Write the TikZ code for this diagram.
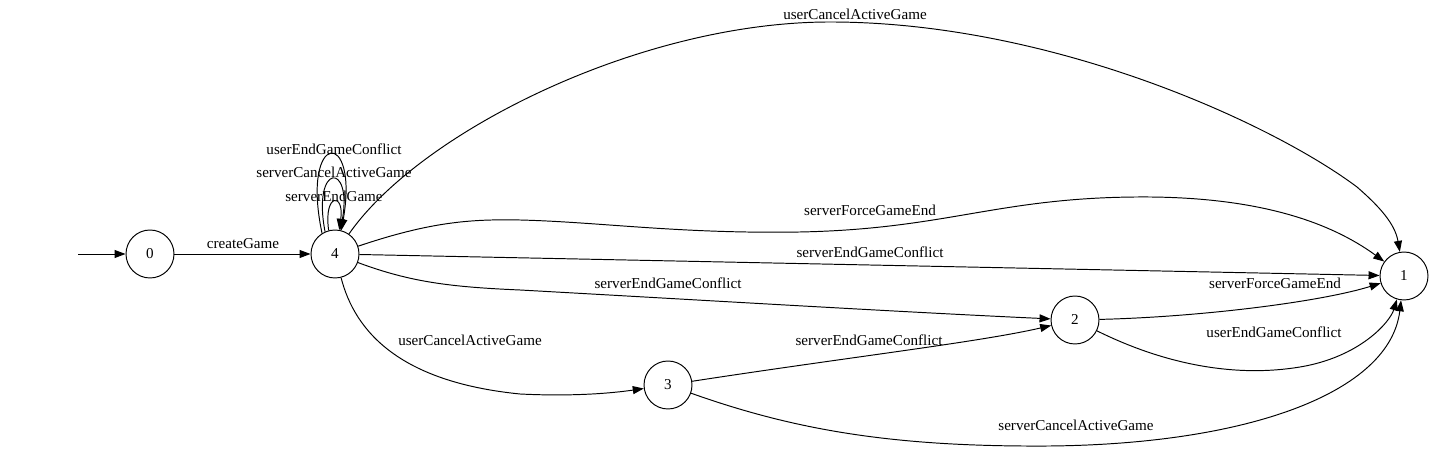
\documentclass[tikz,border=0pt]{standalone}
\usepackage{fontspec}
\setmainfont{Liberation Serif}
\usepackage{tikz}
\usetikzlibrary{arrows.meta,positioning}
\tikzset{
state_node/.style={circle, draw, line width=0.55pt, minimum size=0.96cm, inner sep=0pt, font=\fontsize{8.6}{10}\selectfont},
edge_label/.style={inner sep=0pt, font=\fontsize{8.6}{10}\selectfont},
trans/.style={draw, line width=0.55pt, -{Triangle[length=0.22cm, width=0.16cm]}}
}

\begin{document}
\begin{tikzpicture}[x=0.02cm, y=0.02cm]
    \useasboundingbox (0,0) rectangle (1433,452);
    % states
    \node[state_node] (state_0) at (150,198) {0};
    \node[state_node] (state_4) at (335,198) {4};
    \node[state_node] (state_3) at (668,67) {3};
    \node[state_node] (state_2) at (1075,132) {2};
    \node[state_node] (state_1) at (1404,176) {1};
    \coordinate[left=1.44cm of state_0.center] (init);

    % transitions
    \draw[trans] (init) -- (state_0);
    \draw[trans] (state_0) -- (state_4);
    \draw[trans] (state_4.122) .. controls +(102:105) and +(80:105) .. (state_4.75);
    \draw[trans] (state_4.114) .. controls +(101:70) and +(80:70) .. (state_4.77);
    \draw[trans] (state_4.105) .. controls +(98:38) and +(82:38) .. (state_4.80);
    \draw[trans] (state_4) .. controls (420,320) and (640,430) .. (830,430)
        .. controls (1050,430) and (1270,330) .. (1357,265)
        .. controls (1380,245) and (1395,228) .. (state_1);
    \draw[trans] (state_4) .. controls (430,230) and (470,233) .. (520,232)
        .. controls (600,230) and (680,218) .. (800,220)
        .. controls (950,223) and (1000,256) .. (1150,255)
        .. controls (1260,254) and (1330,230) .. (state_1);
    \draw[trans] (state_4) -- (state_1);
    \draw[trans] (state_4) .. controls (410,170) and (450,165) .. (520,162)
        .. controls (700,152) and (900,140) .. (state_2);
    \draw[trans] (state_4) .. controls (355,120) and (400,70) .. (520,58)
        .. controls (580,55) and (620,60) .. (state_3);
    \draw[trans] (state_3) .. controls (850,95) and (980,110) .. (state_2);
    \draw[trans] (state_2) .. controls (1200,135) and (1320,150) .. (state_1);
    \draw[trans] (state_2) .. controls (1170,85) and (1240,75) .. (1300,85)
        .. controls (1360,95) and (1390,130) .. (state_1);
    \draw[trans] (state_3) .. controls (800,20) and (900,5) .. (1050,6)
        .. controls (1250,8) and (1390,60) .. (state_1);

    % labels
    \node[edge_label] (lab_create) at (243,208) {createGame};
    \node[edge_label] (lab_loop_c) at (334,303) {userEndGameConflict};
    \node[edge_label] (lab_loop_b) at (334,280) {serverCancelActiveGame};
    \node[edge_label] (lab_loop_a) at (334,256) {serverEndGame};
    \node[edge_label] (lab_41_a) at (855,438) {userCancelActiveGame};
    \node[edge_label] (lab_41_b) at (870,242) {serverForceGameEnd};
    \node[edge_label] (lab_41_c) at (870,200) {serverEndGameConflict};
    \node[edge_label] (lab_42) at (668,169) {serverEndGameConflict};
    \node[edge_label] (lab_43) at (470,112) {userCancelActiveGame};
    \node[edge_label] (lab_32) at (869,112) {serverEndGameConflict};
    \node[edge_label] (lab_21_a) at (1275,169) {serverForceGameEnd};
    \node[edge_label] (lab_21_b) at (1274,120) {userEndGameConflict};
    \node[edge_label] (lab_31) at (1076,27) {serverCancelActiveGame};
\end{tikzpicture}
\end{document}
